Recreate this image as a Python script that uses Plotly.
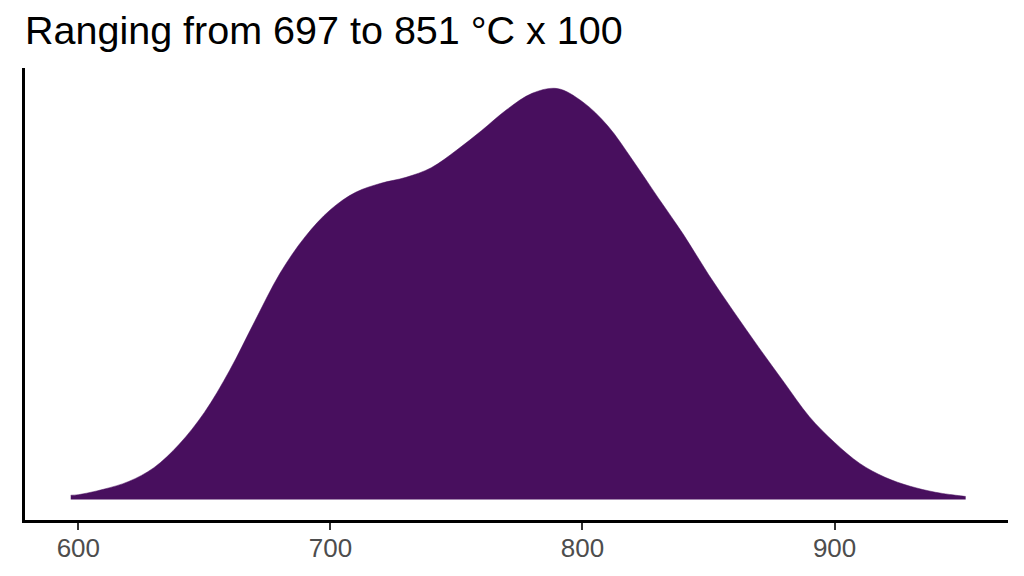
import plotly.graph_objects as go

# kernel density of temperature (°C x 100)
temp = [597, 600, 610, 620, 630, 640, 650, 660, 670, 680, 690, 700, 710, 720,
        730, 740, 750, 760, 770, 780, 790, 800, 810, 820, 830, 840, 850, 860,
        870, 880, 890, 900, 910, 920, 930, 940, 950, 952]
dens_e3 = [0.07, 0.08, 0.17, 0.30, 0.53, 0.92, 1.45, 2.15, 2.97, 3.77, 4.38, 4.83,
           5.12, 5.27, 5.37, 5.53, 5.82, 6.15, 6.50, 6.77, 6.85, 6.63, 6.23, 5.65,
           5.03, 4.42, 3.75, 3.13, 2.53, 1.95, 1.38, 0.95, 0.60, 0.37, 0.22, 0.12,
           0.06, 0.05]
x_ticks = [600, 700, 800, 900]

density = [d / 1000 for d in dens_e3]
ymax = max(density)

fig = go.Figure()
fig.add_trace(go.Scatter(
    x=temp,
    y=density,
    mode='lines',
    line={'shape': 'spline', 'smoothing': 1.0, 'width': 0.5, 'color': '#480F5E'},
    fill='tozeroy',
    fillcolor='#480F5E',
    hoverinfo='skip',
    showlegend=False
))

# page body has an 8px margin, so the figure is a bit smaller than the window
fig.update_layout(
    width=1008,
    height=560,
    paper_bgcolor='white',
    plot_bgcolor='white',
    margin={'l': 17, 'r': 8, 't': 60, 'b': 48},
    title={
        'text': 'Ranging from 697 to 851 °C x 100',
        'font': {'family': 'Liberation Sans, Arial', 'size': 39.5, 'color': 'black'},
        'x': 0, 'xref': 'paper', 'xanchor': 'left',
        'y': 0.961, 'yref': 'container', 'yanchor': 'middle'
    },
    xaxis={
        'range': [578.85, 968.8],
        'tickvals': x_ticks,
        'automargin': False,
        'showgrid': False,
        'zeroline': False,
        'showline': True,
        'linecolor': 'black',
        'linewidth': 2.5,
        'ticks': 'outside',
        'ticklen': 7,
        'tickwidth': 2,
        'tickcolor': '#333333',
        'ticklabelstandoff': -4,
        'tickfont': {'family': 'Liberation Sans, Arial', 'size': 26, 'color': '#4D4D4D'}
    },
    yaxis={
        'range': [-0.05 * ymax, 1.05 * ymax],
        'automargin': False,
        'showgrid': False,
        'zeroline': False,
        'showline': True,
        'linecolor': 'black',
        'linewidth': 2.5,
        'showticklabels': False,
        'ticks': ''
    }
)

fig.write_html('out.html')
